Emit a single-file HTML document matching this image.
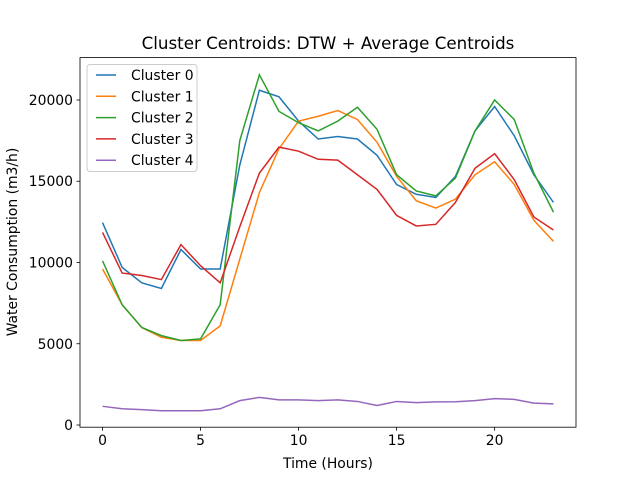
<!DOCTYPE html>
<html><head><meta charset="utf-8"><style>
body{margin:0;background:#fff}
svg text{font-family:"DejaVu Sans","Liberation Sans",sans-serif;fill:#000}
</style></head><body>
<svg id="chart" width="640" height="480" xmlns="http://www.w3.org/2000/svg"></svg>
<script>
const hours=[0,1,2,3,4,5,6,7,8,9,10,11,12,13,14,15,16,17,18,19,20,21,22,23];
const seriesNames=["Cluster 0","Cluster 1","Cluster 2","Cluster 3","Cluster 4"];
const cluster0=[12450,9700,8750,8400,10800,9600,9600,16000,20600,20200,18700,17600,17750,17600,16600,14800,14200,14000,15300,18100,19600,17800,15400,13700];
const cluster1=[9600,7400,6000,5400,5200,5200,6100,10200,14300,17000,18700,19000,19350,18800,17400,15300,13800,13350,13900,15400,16200,14800,12600,11300];
const cluster2=[10100,7400,6000,5500,5200,5300,7400,17500,21550,19300,18600,18100,18700,19550,18200,15400,14400,14100,15200,18100,20000,18800,15500,13100];
const cluster3=[11850,9350,9200,8950,11100,9800,8750,12200,15500,17100,16850,16350,16300,15400,14500,12900,12250,12350,13700,15800,16700,15100,12800,12000];
const cluster4=[1150,1000,950,880,880,880,1000,1500,1700,1550,1550,1500,1550,1450,1200,1450,1380,1420,1430,1500,1620,1580,1350,1300];
const xTicks=[0,5,10,15,20];
const yTicks=[0,5000,10000,15000,20000];
const allSeries=[cluster0,cluster1,cluster2,cluster3,cluster4];
const colors=["#1f77b4","#ff7f0e","#2ca02c","#d62728","#9467bd"];
const L=80,R=576,T=57.6,B=427.2;
const xmin=-1.15,xmax=24.15;
const ymin=-135,ymax=22609;
const xs=v=>L+(v-xmin)/(xmax-xmin)*(R-L);
const ys=v=>B-(v-ymin)/(ymax-ymin)*(B-T);
const svg=document.getElementById('chart');
const NS="http://www.w3.org/2000/svg";
function mk(tag,attrs,txt){const e=document.createElementNS(NS,tag);for(const k in attrs)e.setAttribute(k,attrs[k]);if(txt!==undefined)e.textContent=txt;svg.appendChild(e);return e;}
allSeries.forEach((s,i)=>{
  const p=mk('polyline',{points:s.map((v,j)=>xs(hours[j])+','+ys(v)).join(' '),fill:'none',stroke:colors[i],'stroke-width':1.5});
  
  
});
const frame=mk('rect',{x:L,y:T,width:R-L,height:B-T,fill:'none',stroke:'#000','stroke-width':0.8});


xTicks.forEach(t=>{
  const x=xs(t);
  mk('line',{x1:x,x2:x,y1:B,y2:B+3.5,stroke:'#000','stroke-width':0.8});
  const tx=mk('text',{x:x,y:B+18,'font-size':13.9,'text-anchor':'middle'},String(t));
  
  
});
yTicks.forEach(t=>{
  const y=ys(t);
  mk('line',{x1:L-3.5,x2:L,y1:y,y2:y,stroke:'#000','stroke-width':0.8});
  const tx=mk('text',{x:L-7,y:y+5,'font-size':13.9,'text-anchor':'end'},String(t));
  
  
});
const title=mk('text',{x:(L+R)/2,y:49,'font-size':16.7,'text-anchor':'middle'},'Cluster Centroids: DTW + Average Centroids');


const xl=mk('text',{x:(L+R)/2,y:468,'font-size':13.9,'text-anchor':'middle'},'Time (Hours)');


const yl=mk('text',{x:0,y:0,'font-size':13.9,'text-anchor':'middle',transform:'translate(17,242) rotate(-90)'},'Water Consumption (m3/h)');


const lg=mk('rect',{x:87,y:64.5,width:110,height:107,rx:3,fill:'#fff','fill-opacity':0.8,stroke:'#ccc','stroke-width':1});


seriesNames.forEach((n,i)=>{
  const y=75+i*21.3;
  mk('line',{x1:96,x2:116,y1:y,y2:y,stroke:colors[i],'stroke-width':1.5});
  const tx=mk('text',{x:131,y:y+5,'font-size':13.9},n);
  
  
});
</script>
</body></html>
